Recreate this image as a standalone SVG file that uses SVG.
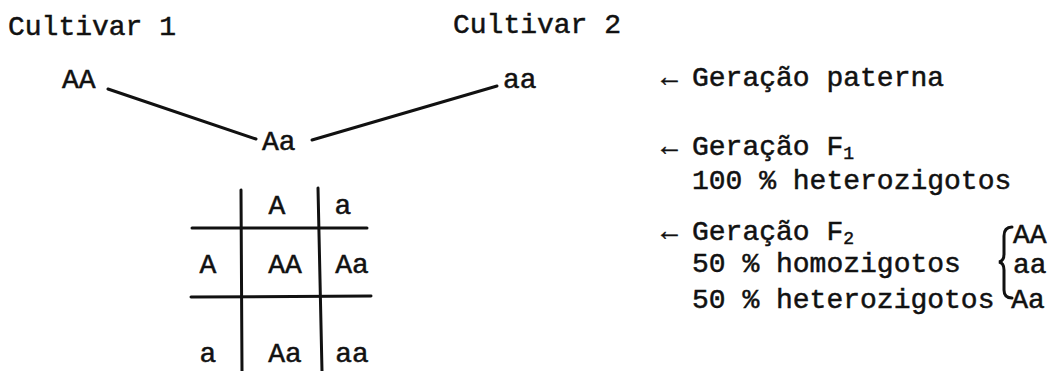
<svg xmlns="http://www.w3.org/2000/svg" width="1059" height="371" viewBox="0 0 1059 371">
  <style>
    text { font-family: "Liberation Mono", "DejaVu Sans Mono", monospace; font-size: 28px; fill: #111; stroke: #111; stroke-width: 0.5; }
    .mid { text-anchor: middle; }
    .sub { font-size: 18px; }
    .rule { stroke: #111; stroke-width: 3; fill: none; stroke-linecap: round; }
  </style>
  <rect width="1059" height="371" fill="#fff"/>

  <!-- parents -->
  <g id="cultivar1">
    <text x="8" y="35">Cultivar 1</text>
    <text x="62" y="88">AA</text>
  </g>
  <g id="cultivar2">
    <text x="453" y="33">Cultivar 2</text>
    <text x="503" y="88">aa</text>
  </g>

  <!-- F1 hybrid -->
  <g id="f1">
    <text x="262" y="150">Aa</text>
  </g>

  <!-- crossing lines -->
  <g id="connectors">
    <line class="rule" x1="108" y1="89" x2="256" y2="139"/>
    <line class="rule" x1="312" y1="140" x2="497" y2="86"/>
  </g>

  <!-- F2 Punnett square -->
  <g id="punnett">
    <line class="rule" x1="241" y1="190" x2="242" y2="371"/>
    <line class="rule" x1="318" y1="188" x2="322" y2="371"/>
    <line class="rule" x1="192" y1="228" x2="367" y2="228"/>
    <line class="rule" x1="191" y1="297" x2="371" y2="296"/>
    <text class="mid" x="277" y="214">A</text>
    <text class="mid" x="343" y="214">a</text>
    <text class="mid" x="208" y="273">A</text>
    <text class="mid" x="285" y="273">AA</text>
    <text class="mid" x="352" y="273">Aa</text>
    <text class="mid" x="208" y="362">a</text>
    <text class="mid" x="285" y="362">Aa</text>
    <text class="mid" x="352" y="362">aa</text>
  </g>

  <!-- generation notes -->
  <g id="note-parental">
    <text x="661" y="86">←</text>
    <text x="692" y="86">Geração paterna</text>
  </g>
  <g id="note-f1">
    <text x="661" y="155">←</text>
    <text x="692" y="155">Geração F<tspan class="sub" dy="4">1</tspan></text>
    <text x="692" y="189">100 % heterozigotos</text>
  </g>
  <g id="note-f2">
    <text x="661" y="240">←</text>
    <text x="692" y="240">Geração F<tspan class="sub" dy="4">2</tspan></text>
    <text x="692" y="272">50 % homozigotos</text>
    <path class="rule" stroke-width="2.5" d="M1012,227 Q1004,227 1004,236 L1004,254 Q1004,261 999,262 Q1004,263 1004,270 L1004,290 Q1004,298 1012,298"/>
    <text x="1013" y="243">AA</text>
    <text x="1013" y="273">aa</text>
    <text x="692" y="308">50 % heterozigotos Aa</text>
  </g>
</svg>
